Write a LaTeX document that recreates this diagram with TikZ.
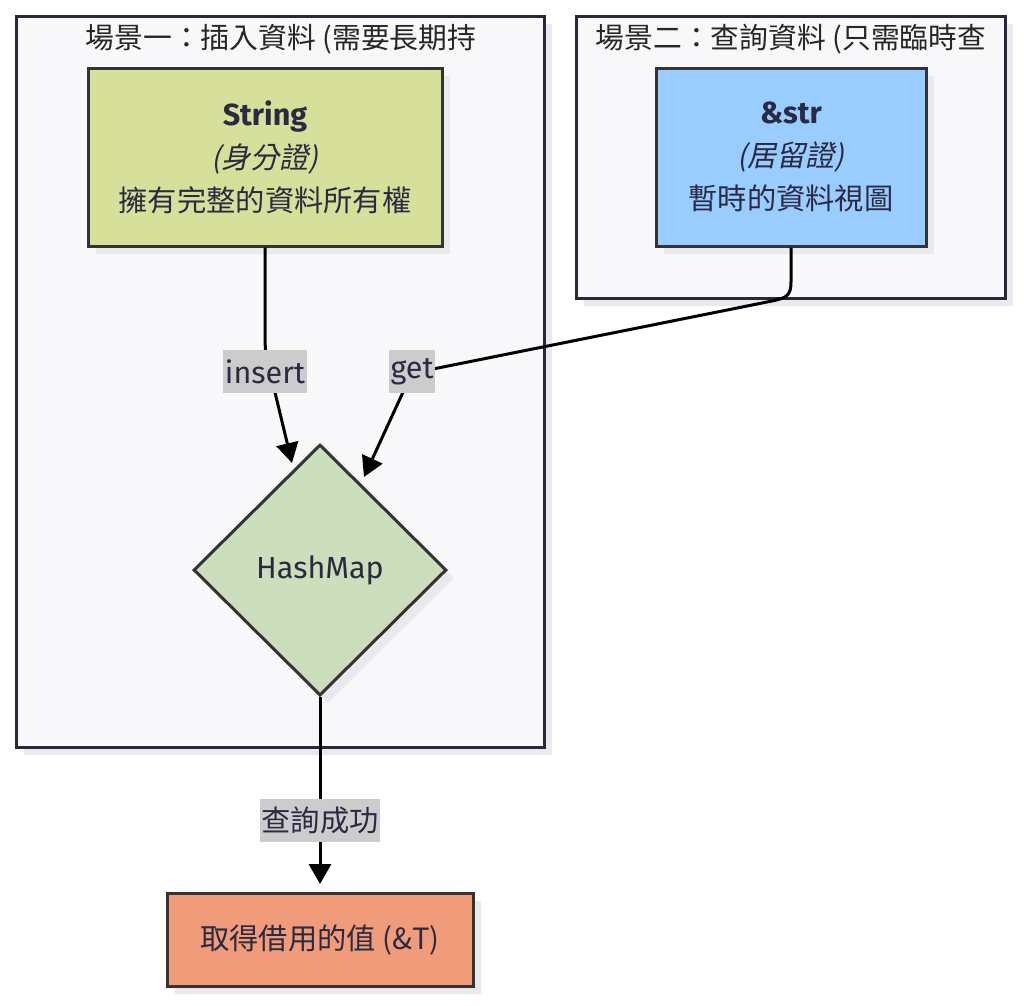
\documentclass[tikz,border=0pt]{standalone}
\usepackage{fontspec}
\setmainfont{Fira Sans}
\newfontfamily\cjkfont{Noto Sans CJK TC}[Scale=0.96]
\newfontfamily\cjkitfont{Noto Sans CJK TC}[Scale=0.96,FakeSlant=0.2]
\newcommand{\zh}[1]{{\cjkfont #1}}
\newcommand{\zhit}[1]{{\cjkitfont #1}}
\usetikzlibrary{shapes.geometric,arrows.meta,shadows}
\definecolor{clusterfill}{RGB}{248,248,251}
\definecolor{clusterdraw}{RGB}{40,40,58}
\definecolor{shadowc}{RGB}{234,234,236}
\definecolor{nodedraw}{RGB}{51,51,51}
\definecolor{txt}{RGB}{42,42,66}
\definecolor{strfill}{RGB}{214,224,154}
\definecolor{reffill}{RGB}{153,204,255}
\definecolor{mapfill}{RGB}{204,222,187}
\definecolor{resfill}{RGB}{240,156,122}
\definecolor{lblfill}{RGB}{204,204,204}
\tikzset{
  myshadow/.style={drop shadow={shadow xshift=8pt,shadow yshift=-8pt,fill=shadowc,opacity=1}},
  cluster/.style={draw=clusterdraw,fill=clusterfill,line width=3pt,myshadow},
  boxnode/.style={draw=nodedraw,line width=3pt,myshadow,text=txt,align=center,inner sep=0pt,
    font=\fontsize{30.5}{43}\selectfont},
  mapnode/.style={diamond,aspect=1,draw=nodedraw,line width=3pt,myshadow,fill=mapfill,text=txt,
    inner sep=0pt,minimum width=253pt,minimum height=251pt,font=\fontsize{30.5}{36}\selectfont},
  titletext/.style={text=black!85,font=\fontsize{30}{36}\selectfont,inner sep=0pt},
  lbl/.style={fill=lblfill,text=txt,inner xsep=1.5pt,inner ysep=0pt,minimum height=43pt,
    font=\fontsize{30.5}{36}\selectfont},
  edge/.style={line width=3pt,draw=black,-{Triangle[length=20pt,width=22pt]}},
}
\begin{document}
\begin{tikzpicture}[x=1pt,y=-1pt]
\useasboundingbox (0,0) rectangle (1024,1005);
% clusters
\path[cluster] (16,16) rectangle (544,747);
\path[cluster] (576,16) rectangle (1005,298);
\node[titletext] (t1) at (281,39) {\zh{場景一：插入資料 (需要長期持}};
\node[titletext] (t2) at (791,39) {\zh{場景二：查詢資料 (只需臨時查}};
% nodes
\node[boxnode,fill=strfill,minimum width=354pt,minimum height=178pt] (s) at (265,157)
  {\textbf{String}\\\zhit{(身分證)}\\\zh{擁有完整的資料所有權}};
\node[boxnode,fill=reffill,minimum width=270pt,minimum height=178pt] (r) at (791,157)
  {\textbf{\&str}\\\zhit{(居留證)}\\\zh{暫時的資料視圖}};
\node[mapnode] (h) at (320,570) {HashMap};
\node[boxnode,fill=resfill,minimum width=306pt,minimum height=93pt] (res) at (320,939.5)
  {\zh{取得借用的值 (\&T)}};
% connector ends
\coordinate (tipA) at (292,463);
\coordinate (tipB) at (364,477);
\coordinate (tipC) at (320,884);
% edges
\draw[edge] (s.south) -- (265,335) .. controls (265,358) and (268,368) .. (272,380) -- (tipA);
\draw[edge] (r.south) -- (791,282) .. controls (791,296) and (786,298) .. (772,301)
  -- (428,370) .. controls (414,373) and (410,378) .. (404,390) -- (tipB);
\draw[edge] (h.south) -- (tipC);
% labels
\node[lbl] (l1) at (265,371.5) {insert};
\node[lbl] (l2) at (412,371.5) {get};
\node[lbl] (l3) at (320,820.5) {\zh{查詢成功}};
\end{tikzpicture}
\end{document}
